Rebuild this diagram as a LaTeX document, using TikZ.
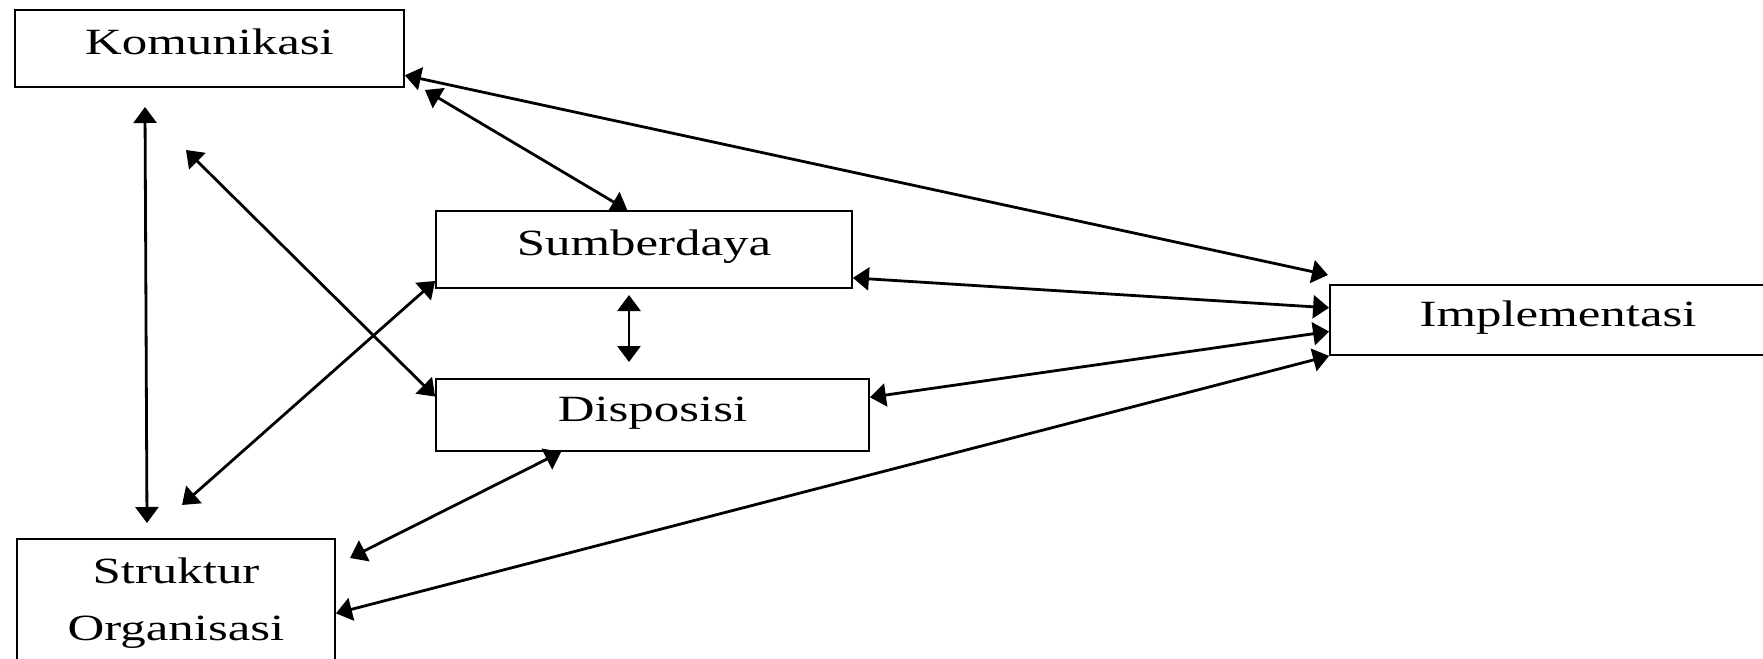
\documentclass[tikz,border=0pt]{standalone}
\usepackage{fontspec}
\setmainfont{Liberation Serif}[FakeStretch=1.375]
\usetikzlibrary{arrows.meta,calc}

\tikzset{
  kotak/.style={draw, line width=0.9pt, inner sep=0pt, font=\fontsize{18.5}{28.5}\selectfont},
  satu/.style={kotak, text height=12.5pt, text depth=6.5pt},
  panah/.style={{Triangle[length=8pt,width=11.5pt]}-{Triangle[length=8pt,width=11.5pt]}, line width=1.4pt}
}

\begin{document}
\begin{tikzpicture}[x=0.5pt,y=0.5pt,yscale=-1]
\useasboundingbox (0,0) rectangle (1763,659);

%Shape: Rectangle
\node [satu, minimum width=194.5pt, minimum height=38.5pt] (komunikasi) at (209.5,48.5) {Komunikasi};
\node [satu, minimum width=208pt, minimum height=38.5pt] (sumberdaya) at (644,249.5) {Sumberdaya};
\node [satu, minimum width=216.5pt, minimum height=36pt] (disposisi) at (652.5,415) {Disposisi};
\node [kotak, align=center, minimum width=159pt, minimum height=64pt] (struktur) at (176,603) {Struktur\\Organisasi};
\node [satu, minimum width=228pt, minimum height=35pt] (implementasi) at (1558,320) {Implementasi};

%free ends
\coordinate (kom_up) at (145,107);
\coordinate (str_up) at (147,523);
\coordinate (kom_dg) at (186,150);
\coordinate (kom_se) at (425,90);
\coordinate (imp_up) at (1328,275);
\coordinate (str_ne) at (350,558);
\coordinate (str_nw) at (182,505);
\coordinate (sd_top) at (629,295);
\coordinate (sd_bot) at (629,362);

%Straight Lines
\draw [panah] (kom_up) -- (str_up);
\draw [panah] (kom_dg) -- ($(disposisi.north west)!0.25!(disposisi.south west)$);
\draw [panah] (kom_se) -- ($(sumberdaya.north west)!0.46!(sumberdaya.north east)$);
\draw [panah] ($(komunikasi.north east)!0.84!(komunikasi.south east)$) -- (imp_up);
\draw [panah] ($(sumberdaya.north east)!0.86!(sumberdaya.south east)$) -- ($(implementasi.north west)!0.33!(implementasi.south west)$);
\draw [panah] ($(disposisi.north east)!0.26!(disposisi.south east)$) -- ($(implementasi.north west)!0.66!(implementasi.south west)$);
\draw [panah] ($(struktur.north east)!0.58!(struktur.south east)$) -- (implementasi.south west);
\draw [panah] ($(disposisi.south west)!0.29!(disposisi.south east)$) -- (str_ne);
\draw [panah] ($(sumberdaya.north west)!0.9!(sumberdaya.south west)$) -- (str_nw);
\draw [panah] (sd_top) -- (sd_bot);

\end{tikzpicture}
\end{document}
